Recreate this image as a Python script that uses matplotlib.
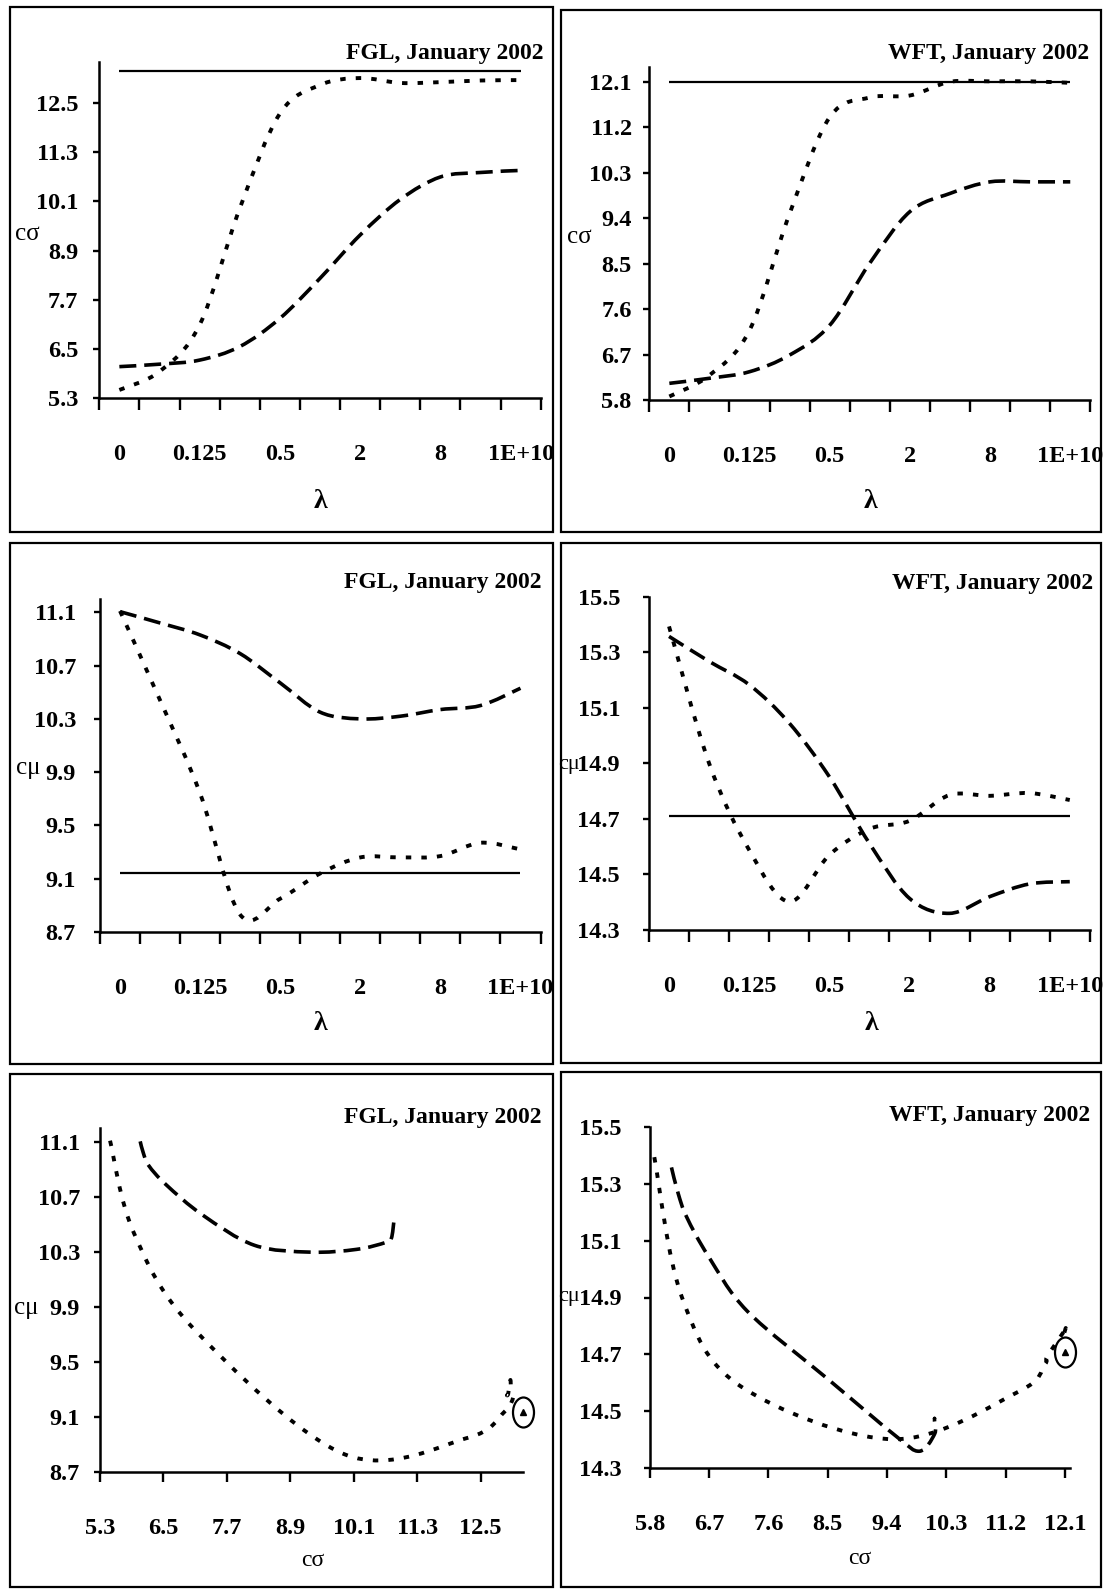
import numpy as np
import matplotlib
matplotlib.use("Agg")
import matplotlib.pyplot as plt
from matplotlib.path import Path
from matplotlib.patches import PathPatch, Rectangle
from matplotlib.markers import MarkerStyle
from matplotlib.transforms import Affine2D

plt.rcParams['font.family'] = ['Liberation Serif', 'DejaVu Serif']

# ---------------- data ----------------
lambdas = ['0', '0.0625', '0.125', '0.25', '0.5', '1', '2', '4', '8', '16', '1E+10']
lambda_labels = ['0', '0.125', '0.5', '2', '8', '1E+10']

# FGL, January 2002
fgl_csig_dash = [6.06, 6.12, 6.22, 6.55, 7.24, 8.22, 9.28, 10.15, 10.70, 10.81, 10.86]
fgl_csig_dot = [5.49, 5.94, 7.08, 9.93, 12.25, 12.95, 13.12, 13.0, 13.02, 13.06, 13.07]
fgl_cmu_dash = [11.105, 11.02, 10.93, 10.79, 10.57, 10.35, 10.30, 10.32, 10.37, 10.40, 10.53]
fgl_cmu_dot = [11.11, 10.44, 9.74, 8.83, 8.95, 9.14, 9.26, 9.26, 9.27, 9.37, 9.32]
fgl_csig_ref = 13.3
fgl_cmu_ref = 9.14

# WFT, January 2002
wft_csig_dash = [6.13, 6.23, 6.36, 6.69, 7.28, 8.51, 9.53, 9.89, 10.12, 10.12, 10.12]
wft_csig_dot = [5.87, 6.29, 7.18, 9.49, 11.40, 11.79, 11.83, 12.10, 12.11, 12.11, 12.08]
wft_cmu_dash = [15.357, 15.267, 15.183, 15.045, 14.852, 14.612, 14.414, 14.36, 14.42, 14.466, 14.474]
wft_cmu_dot = [15.393, 14.90, 14.588, 14.402, 14.57, 14.664, 14.693, 14.786, 14.783, 14.793, 14.768]
wft_csig_ref = 12.1
wft_cmu_ref = 14.71

fgl_csig_ticks = [5.3, 6.5, 7.7, 8.9, 10.1, 11.3, 12.5]
wft_csig_ticks = [5.8, 6.7, 7.6, 8.5, 9.4, 10.3, 11.2, 12.1]
fgl_cmu_ticks = [8.7, 9.1, 9.5, 9.9, 10.3, 10.7, 11.1]
wft_cmu_ticks = [14.3, 14.5, 14.7, 14.9, 15.1, 15.3, 15.5]

title_fgl = 'FGL, January 2002'
title_wft = 'WFT, January 2002'
csig_lab = 'cσ'
cmu_lab = 'cμ'
lam_lab = 'λ'

# ---------------- layout ----------------
W, H = 1108, 1591
fig = plt.figure(figsize=(W / 100, H / 100), dpi=100)
fig.patch.set_facecolor('white')

PT = 0.72  # points per pixel at dpi 100
TICK_FS = 17.5
TITLE_FS = 17


def fx(x):
    return x / W


def fy(y):
    return 1 - y / H


def box(x0, y0, x1, y1):
    fig.add_artist(Rectangle((fx(x0), fy(y1)), fx(x1) - fx(x0), fy(y0) - fy(y1),
                             transform=fig.transFigure, fill=False,
                             edgecolor='black', linewidth=1.6))


def make_axes(L, R, T, B):
    ax = fig.add_axes([fx(L), fy(B), (R - L) / W, (B - T) / H])
    ax.set_facecolor('none')
    for s in ('top', 'right'):
        ax.spines[s].set_visible(False)
    for s in ('left', 'bottom'):
        ax.spines[s].set_linewidth(1.8)
    return ax


def bold_ticks(ax):
    for t in ax.get_xticklabels(which='both') + ax.get_yticklabels():
        t.set_fontweight('bold')


def smooth_line(ax, xs, ys, kind):
    pts = np.column_stack([np.asarray(xs, float), np.asarray(ys, float)])
    n = len(pts)
    verts = [pts[0]]
    codes = [Path.MOVETO]
    for i in range(n - 1):
        p0 = pts[i - 1] if i > 0 else pts[i]
        p1 = pts[i]
        p2 = pts[i + 1]
        p3 = pts[i + 2] if i + 2 < n else pts[i + 1]
        verts += [p1 + (p2 - p0) / 6.0, p2 - (p3 - p1) / 6.0, p2]
        codes += [Path.CURVE4] * 3
    if kind == 'dash':
        lw, ls = 2.6, (0, (4.7, 2.2))
    else:
        lw, ls = 2.8, (0, (1.4, 2.6))
    patch = PathPatch(Path(verts, codes), fill=False, edgecolor='black',
                      linewidth=lw, linestyle=ls, capstyle='butt',
                      joinstyle='round', clip_on=False)
    ax.add_patch(patch)


def style_y(ax, ticks, lim, pad_px):
    ax.set_ylim(*lim)
    ax.set_yticks(ticks, ['%.1f' % t for t in ticks])
    ax.tick_params(axis='y', which='major', direction='out', length=6 * PT,
                   width=1.7, pad=pad_px * PT, labelsize=TICK_FS)


def category_x(ax):
    n = len(lambdas)
    ax.set_xlim(0, n)
    ax.set_xticks(np.arange(n + 1), [''] * (n + 1))
    ax.set_xticks(np.arange(0.5, n, 2), lambda_labels, minor=True)
    ax.tick_params(axis='x', which='major', direction='out', length=12 * PT,
                   width=1.7)
    ax.tick_params(axis='x', which='minor', length=0, pad=46 * PT,
                   labelsize=TICK_FS)


def numeric_x(ax, ticks, lim):
    ax.set_xlim(*lim)
    ax.set_xticks(ticks, ['%.1f' % t for t in ticks])
    ax.tick_params(axis='x', which='major', direction='out', length=10 * PT,
                   width=1.7, pad=36 * PT, labelsize=TICK_FS)


def title(x, y, s):
    fig.text(fx(x), fy(y), s, ha='right', va='center', fontsize=TITLE_FS,
             fontweight='bold')


def label(x, y, s, fs=17, ha='center', weight='normal'):
    fig.text(fx(x), fy(y), s, ha=ha, va='center', fontsize=fs, fontweight=weight)


cat_x = np.arange(len(lambdas)) + 0.5
ell = MarkerStyle(Path.unit_circle().transformed(Affine2D().scale(0.7, 1.0)))

# panel boxes
box(10, 7, 552.5, 531.5)
box(561, 10, 1100.5, 531.5)
box(10, 543, 552.5, 1064)
box(561, 543, 1101, 1063)
box(10, 1074, 552.5, 1587)
box(561, 1072, 1100.5, 1587)

# ---- Panel 1: FGL c_sigma vs lambda ----
ax = make_axes(99.3, 540.7, 61.7, 397.7)
category_x(ax)
style_y(ax, fgl_csig_ticks, (5.3, 13.52), 15)
ax.hlines(fgl_csig_ref, cat_x[0], cat_x[-1], colors='black', linewidth=1.6)
smooth_line(ax, cat_x, fgl_csig_dash, 'dash')
smooth_line(ax, cat_x, fgl_csig_dot, 'dot')
bold_ticks(ax)
title(543, 53, title_fgl)
label(27, 234, csig_lab, fs=18)
label(320, 502, lam_lab, fs=20, weight='bold')

# ---- Panel 2: WFT c_sigma vs lambda ----
ax = make_axes(649.3, 1090.3, 66.7, 400)
category_x(ax)
style_y(ax, wft_csig_ticks, (5.8, 12.4), 11.6)
ax.hlines(wft_csig_ref, cat_x[0], cat_x[-1], colors='black', linewidth=1.6)
smooth_line(ax, cat_x, wft_csig_dash, 'dash')
smooth_line(ax, cat_x, wft_csig_dot, 'dot')
bold_ticks(ax)
title(1089, 54, title_wft)
label(579, 237, csig_lab, fs=18)
label(870, 502, lam_lab, fs=20, weight='bold')

# ---- Panel 3: FGL c_mu vs lambda ----
ax = make_axes(100, 540.5, 599, 932)
category_x(ax)
style_y(ax, fgl_cmu_ticks, (8.7, 11.2), 18)
ax.hlines(fgl_cmu_ref, cat_x[0], cat_x[-1], colors='black', linewidth=1.6)
smooth_line(ax, cat_x, fgl_cmu_dash, 'dash')
smooth_line(ax, cat_x, fgl_cmu_dot, 'dot')
bold_ticks(ax)
title(542, 582, title_fgl)
label(28, 768, cmu_lab, fs=18)
label(320, 1024, lam_lab, fs=20, weight='bold')

# ---- Panel 4: WFT c_mu vs lambda ----
ax = make_axes(649, 1089.8, 596.7, 930)
category_x(ax)
style_y(ax, wft_cmu_ticks, (14.3, 15.5), 23)
ax.hlines(wft_cmu_ref, cat_x[0], cat_x[-1], colors='black', linewidth=1.6)
smooth_line(ax, cat_x, wft_cmu_dash, 'dash')
smooth_line(ax, cat_x, wft_cmu_dot, 'dot')
bold_ticks(ax)
title(1093, 583, title_wft)
label(580, 764, cmu_lab, fs=16, ha='right')
label(871, 1023, lam_lab, fs=20, weight='bold')

# ---- Panel 5: FGL c_mu vs c_sigma ----
ax = make_axes(100, 523, 1128.3, 1472.3)
numeric_x(ax, fgl_csig_ticks, (5.3, 13.3))
style_y(ax, fgl_cmu_ticks, (8.7, 11.2), 14)
smooth_line(ax, fgl_csig_dash, fgl_cmu_dash, 'dash')
smooth_line(ax, fgl_csig_dot, fgl_cmu_dot, 'dot')
ax.plot([fgl_csig_ref], [fgl_cmu_ref], marker=ell, ms=21.6, mfc='none',
        mec='black', mew=1.6, ls='none', clip_on=False)
ax.plot([fgl_csig_ref], [fgl_cmu_ref], marker='^', ms=4.5, color='black',
        ls='none', clip_on=False)
bold_ticks(ax)
title(542, 1118, title_fgl)
label(26, 1308, cmu_lab, fs=18)
label(313, 1561, csig_lab, fs=17)

# ---- Panel 6: WFT c_mu vs c_sigma ----
ax = make_axes(649.7, 1069.7, 1126.7, 1468.3)
numeric_x(ax, wft_csig_ticks, (5.8, 12.17))
style_y(ax, wft_cmu_ticks, (14.3, 15.5), 22)
smooth_line(ax, wft_csig_dash, wft_cmu_dash, 'dash')
smooth_line(ax, wft_csig_dot, wft_cmu_dot, 'dot')
ax.plot([wft_csig_ref], [wft_cmu_ref], marker=ell, ms=21.6, mfc='none',
        mec='black', mew=1.6, ls='none', clip_on=False)
ax.plot([wft_csig_ref], [wft_cmu_ref], marker='^', ms=4.5, color='black',
        ls='none', clip_on=False)
bold_ticks(ax)
title(1090, 1115, title_wft)
label(580, 1297, cmu_lab, fs=16, ha='right')
label(860, 1558, csig_lab, fs=17)

fig.savefig('out.png', dpi=100, facecolor='white')
